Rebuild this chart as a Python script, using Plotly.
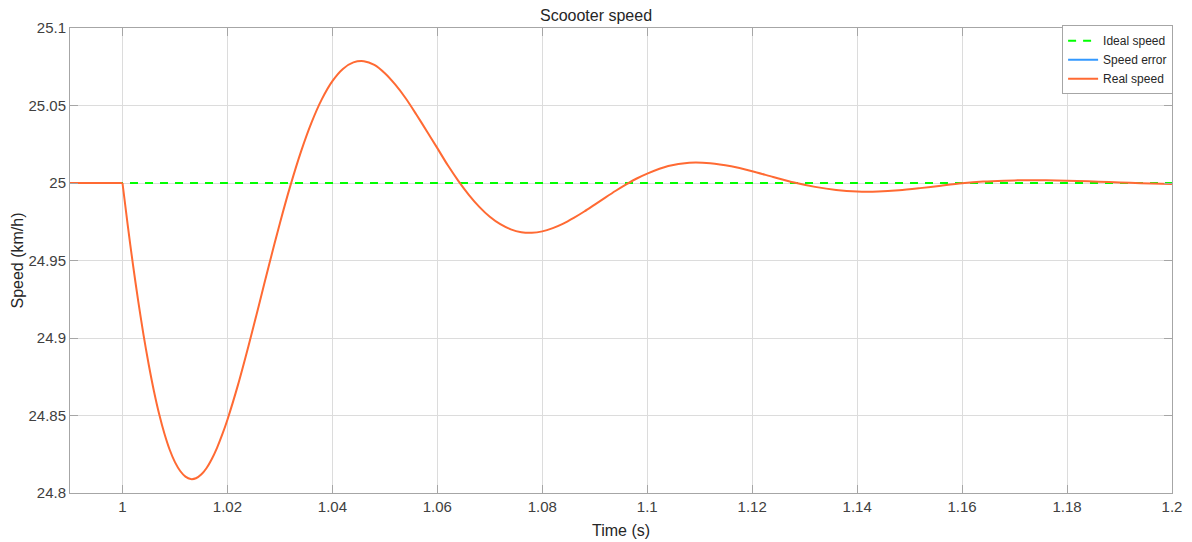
import plotly.graph_objects as go

# ---- data ----
pre_time = [0.99, 1.0]
pre_speed = [25.0, 25.0]

time = [1.000, 1.001, 1.002, 1.003, 1.004, 1.005, 1.006, 1.007, 1.008, 1.009,
        1.010, 1.011, 1.012, 1.013, 1.014, 1.015, 1.016, 1.017, 1.018, 1.019,
        1.020, 1.022, 1.024, 1.026, 1.028, 1.030, 1.032, 1.034, 1.036, 1.038,
        1.040, 1.042, 1.044, 1.046, 1.048, 1.050, 1.052, 1.054, 1.056, 1.058,
        1.060, 1.062, 1.064, 1.066, 1.068, 1.070, 1.072, 1.074, 1.076, 1.078,
        1.080, 1.082, 1.084, 1.086, 1.088, 1.090, 1.092, 1.094, 1.096, 1.098,
        1.100, 1.104, 1.108, 1.112, 1.116, 1.120, 1.124, 1.128, 1.132, 1.136,
        1.140, 1.144, 1.148, 1.152, 1.156, 1.160, 1.164, 1.168, 1.172, 1.176,
        1.180, 1.184, 1.188, 1.192, 1.196, 1.200]
real_speed = [25.0000, 24.9728, 24.9473, 24.9238, 24.9022, 24.8829, 24.8657, 24.8508, 24.8382, 24.8279,
              24.8199, 24.8142, 24.8106, 24.8090, 24.8095, 24.8119, 24.8160, 24.8218, 24.8290, 24.8376,
              24.8473, 24.8696, 24.8947, 24.9212, 24.9481, 24.9741, 24.9983, 25.0201, 25.0388, 25.0541,
              25.0657, 25.0736, 25.0778, 25.0786, 25.0762, 25.0708, 25.0634, 25.0545, 25.0442, 25.0334,
              25.0225, 25.0114, 25.0014, 24.9924, 24.9846, 24.9782, 24.9734, 24.9701, 24.9683, 24.9679,
              24.9688, 24.9709, 24.9738, 24.9775, 24.9816, 24.9861, 24.9906, 24.9950, 24.9991, 25.0029,
              25.0061, 25.0110, 25.0131, 25.0128, 25.0108, 25.0076, 25.0039, 25.0003, 24.9975, 24.9955,
              24.9945, 24.9945, 24.9953, 24.9967, 24.9983, 24.9998, 25.0009, 25.0015, 25.0018, 25.0018,
              25.0015, 25.0011, 25.0006, 25.0001, 24.9996, 24.9993]

ideal_time = [0.99, 1.2]
ideal_speed = [25.0, 25.0]

x_tickvals = [1.0, 1.02, 1.04, 1.06, 1.08, 1.1, 1.12, 1.14, 1.16, 1.18, 1.2]
x_ticktext = ["1", "1.02", "1.04", "1.06", "1.08", "1.1", "1.12", "1.14", "1.16", "1.18", "1.2"]
y_tickvals = [24.8, 24.85, 24.9, 24.95, 25.0, 25.05, 25.1]
y_ticktext = ["24.8", "24.85", "24.9", "24.95", "25", "25.05", "25.1"]

# speed error = ideal - real (lies far outside the shown range)
speed_error = [25.0 - v for v in real_speed]

GREEN = "#00FF00"
BLUE = "#3399FF"
ORANGE = "#FF6A33"
FONT = "Liberation Sans, Arial, sans-serif"

fig = go.Figure()
fig.add_trace(go.Scatter(x=ideal_time, y=ideal_speed, mode="lines", name="Ideal speed",
                         line=dict(color=GREEN, width=2, dash="8px,7px")))
fig.add_trace(go.Scatter(x=time, y=speed_error, mode="lines", name="Speed error",
                         line=dict(color=BLUE, width=2)))
fig.add_trace(go.Scatter(x=pre_time, y=pre_speed, mode="lines", name="Real speed",
                         legendgroup="real", showlegend=False,
                         line=dict(color=ORANGE, width=2)))
fig.add_trace(go.Scatter(x=time, y=real_speed, mode="lines", name="Real speed",
                         legendgroup="real",
                         line=dict(color=ORANGE, width=2, shape="spline", smoothing=0.8)))

axis_common = dict(
    showgrid=True, gridcolor="#dcdcdc", gridwidth=1,
    showline=True, linecolor="#a6a6a6", linewidth=1, mirror="ticks",
    ticks="inside", ticklen=8, tickcolor="#a6a6a6", tickwidth=1,
    zeroline=False, automargin=False,
    tickfont=dict(family=FONT, size=15, color="#404040"),
)

fig.update_layout(
    width=1192, height=542,
    margin=dict(l=70, r=20, t=28, b=49),
    paper_bgcolor="white", plot_bgcolor="white",
    font=dict(family=FONT, color="#262626"),
    title=dict(text="Scoooter speed", x=0.5, xanchor="center", y=1 - 15 / 542, yanchor="middle",
               font=dict(family=FONT, size=16, color="#262626")),
    xaxis=dict(range=[0.99, 1.2], tickvals=x_tickvals, ticktext=x_ticktext,
               title=dict(text="Time (s)", font=dict(family=FONT, size=16, color="#262626"), standoff=10),
               **axis_common),
    yaxis=dict(range=[24.8, 25.1], tickvals=y_tickvals, ticktext=y_ticktext,
               title=dict(text="Speed (km/h)", font=dict(family=FONT, size=16, color="#262626"), standoff=0),
               **axis_common),
    legend=dict(x=1.001, y=1.006, xanchor="right", yanchor="top",
                bgcolor="white", bordercolor="#a6a6a6", borderwidth=1,
                font=dict(family=FONT, size=12, color="#262626"),
                tracegroupgap=0, itemwidth=30),
    showlegend=True,
)

fig.write_html("out.html")
